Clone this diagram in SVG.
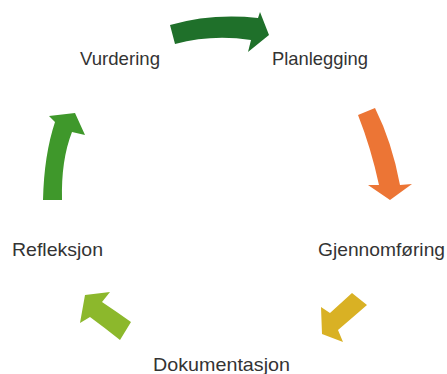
<svg xmlns="http://www.w3.org/2000/svg" width="447" height="374" viewBox="0 0 447 374">
<style>
.lbl{font-family:"Liberation Sans",Arial,sans-serif;font-size:18.5px;fill:#333333}
</style>
<rect width="447" height="374" fill="#ffffff"/>
<g id="connectors">
<path id="a1" d="M170,25 Q212,13 258,18 L260,12 L269,35 L248,52 L251,40 Q212,34 175,44 Z" fill="#1f702a"/>
<path id="a2" d="M358,115 L375,108 Q392,142 400,185 L412,184 L390,200 L368,185 L379,185 Q371,148 358,115 Z" fill="#ec7535"/>
<path id="a3" d="M352,293 L367,305 Q352,318 338,330 L343,342 L322,334 L321,307 L330,313 Q341,303 352,293 Z" fill="#d9b124"/>
<path id="a4" d="M131,322 L120,340 Q105,328 90,317 L80,323 L85,295 L110,292 L102,302 Q117,312 131,322 Z" fill="#8cb82c"/>
<path id="a5" d="M43,200 L62,200 Q61,160 72,132 L85,135 L75,113 L49,116 L55,122 Q44,155 43,200 Z" fill="#3f982b"/>
</g>
<g id="n-vurdering"><text class="lbl" x="80" y="65" textLength="80" lengthAdjust="spacingAndGlyphs">Vurdering</text></g>
<g id="n-planlegging"><text class="lbl" x="272" y="65" textLength="96" lengthAdjust="spacingAndGlyphs">Planlegging</text></g>
<g id="n-gjennomforing"><text class="lbl" x="318" y="256" textLength="127" lengthAdjust="spacingAndGlyphs">Gjennomføring</text></g>
<g id="n-dokumentasjon"><text class="lbl" x="153" y="371" textLength="137" lengthAdjust="spacingAndGlyphs">Dokumentasjon</text></g>
<g id="n-refleksjon"><text class="lbl" x="12" y="256" textLength="91" lengthAdjust="spacingAndGlyphs">Refleksjon</text></g>
</svg>
